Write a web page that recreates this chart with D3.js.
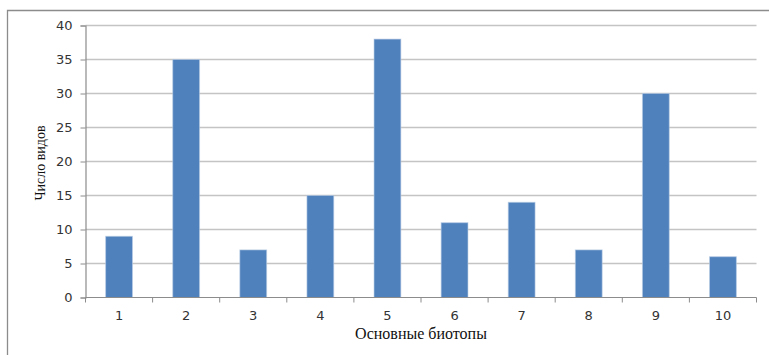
<!DOCTYPE html>
<html>
<head>
<meta charset="utf-8">
<script src="https://cdn.jsdelivr.net/npm/d3@7"></script>
<style>
  html, body { margin: 0; padding: 0; background: #fff; }
  svg { display: block; }
</style>
</head>
<body>
<svg id="chart" width="769" height="355"></svg>
<script>
// Число видов по основным биотопам
const categories = ["1", "2", "3", "4", "5", "6", "7", "8", "9", "10"];
const values = [9, 35, 7, 15, 38, 11, 14, 7, 30, 6];
const yTicks = [0, 5, 10, 15, 20, 25, 30, 35, 40];
const xTitle = "Основные биотопы";
const yTitle = "Число видов";

const svg = d3.select("#chart");
const plotLeft = 85.5, plotRight = 756.5, plotTop = 25.5, plotBottom = 297.5;

// outer frame (top and left edges are visible)
svg.append("path")
  .attr("d", "M7.5,355 V10.5 H769")
  .attr("fill", "none")
  .attr("stroke", "#8c8c8c")
  .attr("stroke-width", 1.3);

const x = d3.scaleBand().domain(categories).range([plotLeft, plotRight]).paddingInner(0.6).paddingOuter(0.3);
const xBounds = d3.scaleLinear().domain([0, categories.length]).range([plotLeft, plotRight]);
const y = d3.scaleLinear().domain([0, 40]).range([plotBottom, plotTop]);

// horizontal gridlines
svg.append("g").selectAll("line")
  .data(yTicks.filter(d => d > 0))
  .join("line")
  .attr("x1", plotLeft).attr("x2", plotRight)
  .attr("y1", d => y(d)).attr("y2", d => y(d))
  .attr("stroke", "#c4c4c4")
  .attr("stroke-width", 1.3);

// bars
svg.append("g").selectAll("rect")
  .data(values)
  .join("rect")
  .attr("x", (d, i) => x(categories[i]))
  .attr("y", d => y(d))
  .attr("width", x.bandwidth())
  .attr("height", d => y(0) - y(d))
  .attr("fill", "#4f81bd")
  .attr("stroke", "#b9cde5")
  .attr("stroke-opacity", 0.6)
  .attr("stroke-width", 1);

// y axis
const yAxis = d3.axisLeft(y).tickValues(yTicks).tickSize(5).tickPadding(8);
const gy = svg.append("g").attr("transform", `translate(${plotLeft},0)`).call(yAxis);
gy.select(".domain").attr("stroke", "#8c8c8c").attr("stroke-width", 1.2);
gy.selectAll(".tick line").attr("stroke", "#8c8c8c");
gy.selectAll(".tick text")
  .attr("font-family", "'DejaVu Sans', Verdana, sans-serif")
  .attr("font-size", 13)
  .attr("fill", "#333");

// x axis with ticks at category boundaries
const gx = svg.append("g").attr("transform", `translate(0,${plotBottom})`);
gx.append("line")
  .attr("x1", plotLeft).attr("x2", plotRight)
  .attr("stroke", "#8c8c8c").attr("stroke-width", 1.2);
gx.selectAll("line.b")
  .data(d3.range(categories.length + 1))
  .join("line")
  .attr("class", "b")
  .attr("x1", d => xBounds(d)).attr("x2", d => xBounds(d))
  .attr("y1", 0).attr("y2", 5)
  .attr("stroke", "#8c8c8c");
gx.selectAll("text")
  .data(categories)
  .join("text")
  .attr("x", d => x(d) + x.bandwidth() / 2)
  .attr("y", 22.5)
  .attr("text-anchor", "middle")
  .attr("font-family", "'DejaVu Sans', Verdana, sans-serif")
  .attr("font-size", 13)
  .attr("fill", "#333")
  .text(d => d);

// axis titles
svg.append("text")
  .attr("x", 421)
  .attr("y", 339)
  .attr("text-anchor", "middle")
  .attr("font-family", "'Liberation Serif', 'Times New Roman', serif")
  .attr("font-size", 16)
  .attr("fill", "#111")
  .text(xTitle);

svg.append("text")
  .attr("transform", "translate(45,163) rotate(-90)")
  .attr("text-anchor", "middle")
  .attr("font-family", "'Liberation Serif', 'Times New Roman', serif")
  .attr("font-size", 14)
  .attr("fill", "#111")
  .text(yTitle);
</script>
</body>
</html>
